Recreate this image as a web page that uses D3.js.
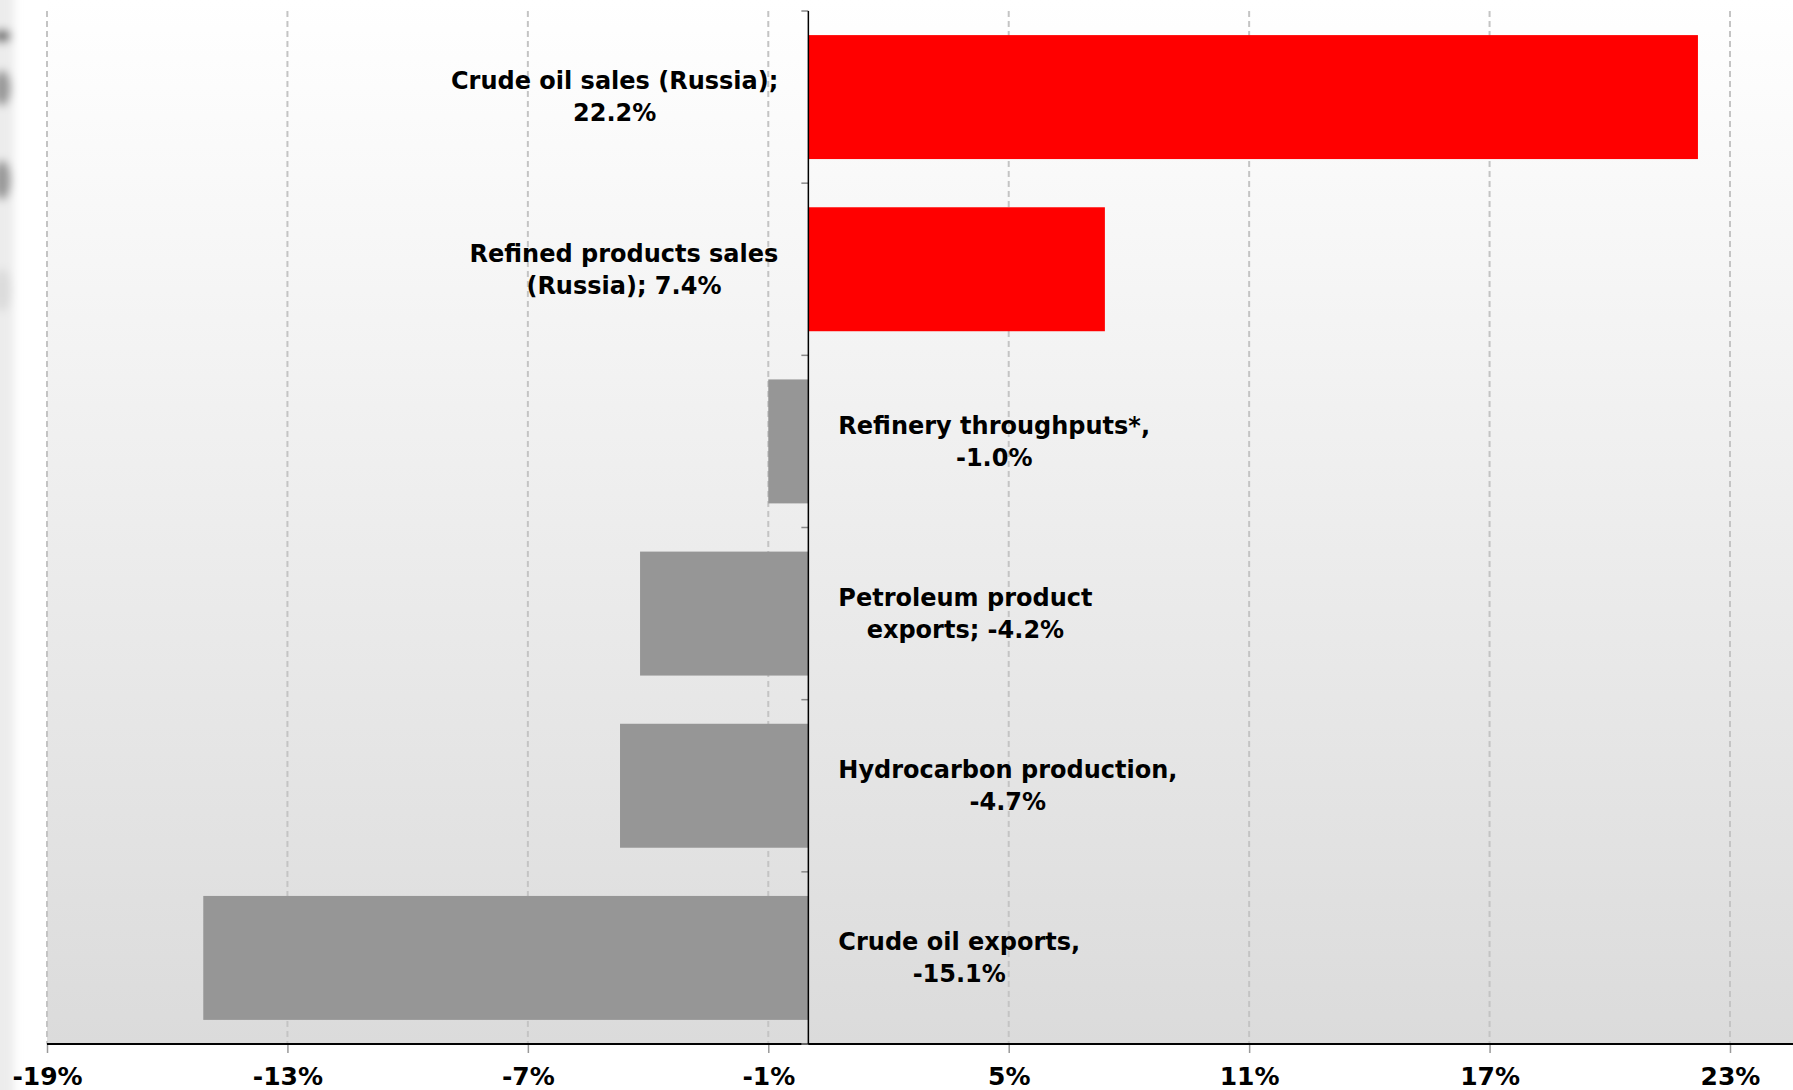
<!DOCTYPE html>
<html>
<head>
<meta charset="utf-8">
<script src="https://cdn.jsdelivr.net/npm/d3@7"></script>
<style>
  html, body { margin: 0; padding: 0; background: #ffffff; }
  svg { display: block; }
  text { font-family: "DejaVu Sans", Verdana, sans-serif; font-weight: bold; fill: #000; }
</style>
</head>
<body>
<svg id="chart" width="1793" height="1090"></svg>
<script>
// ---- data ----
const categories = [
  "Crude oil sales (Russia)",
  "Refined products sales (Russia)",
  "Refinery throughputs*",
  "Petroleum product exports",
  "Hydrocarbon production",
  "Crude oil exports"
];
const values = [22.2, 7.4, -1.0, -4.2, -4.7, -15.1];
const labelLines = [
  ["Crude oil sales (Russia);", "22.2%"],
  ["Refined products sales", "(Russia); 7.4%"],
  ["Refinery throughputs*,", "-1.0%"],
  ["Petroleum product", "exports; -4.2%"],
  ["Hydrocarbon production,", "-4.7%"],
  ["Crude oil exports,", "-15.1%"]
];
const xTicks = [-19, -13, -7, -1, 5, 11, 17, 23];
const barColors = values.map(v => v >= 0 ? "#ff0000" : "#969696");

// ---- layout ----
const W = 1793, H = 1090;
const plotLeft = 47, plotRight = 1793, plotTop = 11, plotBottom = 1044;
const svg = d3.select("#chart");

const x = d3.scaleLinear().domain([-19, 23]).range([47, 1730]);
const y = d3.scaleBand().domain(categories).range([plotTop, plotBottom])
  .paddingInner(0.28).paddingOuter(0.14);

const defs = svg.append("defs");
const grad = defs.append("linearGradient").attr("id", "bg")
  .attr("x1", 0).attr("y1", 0).attr("x2", 0).attr("y2", 1);
grad.append("stop").attr("offset", "0%").attr("stop-color", "#ffffff");
grad.append("stop").attr("offset", "100%").attr("stop-color", "#dbdbdb");
const blur = defs.append("filter").attr("id", "blur")
  .attr("x", "-50%").attr("y", "-50%").attr("width", "200%").attr("height", "200%");
blur.append("feGaussianBlur").attr("stdDeviation", 4);

// left edge shading (scan artefact)
const edge = svg.append("g").attr("filter", "url(#blur)");
edge.append("rect").attr("x", -10).attr("y", -10).attr("width", 24).attr("height", H + 20).attr("fill", "#ececec");
[[36, 7], [88, 18], [180, 20], [290, 22]].forEach(([cy, ry], i) => {
  edge.append("ellipse").attr("cx", 2).attr("cy", cy).attr("rx", 9).attr("ry", ry)
    .attr("fill", i === 3 ? "#dcdcdc" : (i === 0 ? "#777" : "#999"));
});

// plot background
svg.append("rect")
  .attr("x", plotLeft).attr("y", 0)
  .attr("width", plotRight - plotLeft).attr("height", plotBottom)
  .attr("fill", "url(#bg)");

// vertical dashed gridlines
svg.append("g").selectAll("line").data(xTicks).join("line")
  .attr("x1", d => x(d)).attr("x2", d => x(d))
  .attr("y1", plotTop).attr("y2", plotBottom)
  .attr("stroke", "#c4c4c4").attr("stroke-width", 2)
  .attr("stroke-dasharray", "6,4");

// bars
svg.append("g").selectAll("rect").data(values).join("rect")
  .attr("x", d => x(Math.min(0, d)))
  .attr("y", (d, i) => y(categories[i]))
  .attr("width", d => Math.abs(x(d) - x(0)))
  .attr("height", y.bandwidth())
  .attr("fill", (d, i) => barColors[i]);

// x axis
const xAxis = svg.append("g").attr("transform", `translate(0,${plotBottom})`)
  .call(d3.axisBottom(x).tickValues(xTicks).tickFormat(d => d + "%").tickSize(9).tickPadding(14));
xAxis.select(".domain").remove();
xAxis.selectAll(".tick line").attr("stroke", "#999").attr("stroke-width", 1.5);
xAxis.selectAll(".tick text")
  .style("font-family", '"DejaVu Sans", Verdana, sans-serif')
  .style("font-weight", "bold").style("font-size", "25px").attr("fill", "#000");
svg.append("line")
  .attr("x1", plotLeft).attr("x2", plotRight)
  .attr("y1", plotBottom).attr("y2", plotBottom)
  .attr("stroke", "#000").attr("stroke-width", 2);

// y axis at zero
const bounds = categories.map(c => y(c) - y.step() * y.paddingInner() / 2).concat([plotBottom]);
svg.append("g").selectAll("line").data(bounds).join("line")
  .attr("x1", x(0) - 7).attr("x2", x(0))
  .attr("y1", d => d).attr("y2", d => d)
  .attr("stroke", "#888").attr("stroke-width", 1.5);
svg.append("line")
  .attr("x1", x(0)).attr("x2", x(0))
  .attr("y1", plotTop).attr("y2", plotBottom)
  .attr("stroke", "#000").attr("stroke-width", 1.5);

// labels
const gap = 30, lineH = 32, fs = 24;
const lab = svg.append("g");
labelLines.forEach((lines, i) => {
  const cy = y(categories[i]) + y.bandwidth() / 2;
  const t = lab.append("text").style("font-size", fs + "px").attr("text-anchor", "middle");
  lines.forEach((ln, k) => {
    t.append("tspan").attr("x", 0)
      .attr("y", cy + (k - (lines.length - 1) / 2) * lineH)
      .attr("dy", "0.35em").text(ln);
  });
  let wmax = 0;
  t.selectAll("tspan").each(function () { wmax = Math.max(wmax, this.getComputedTextLength()); });
  const cx = values[i] >= 0 ? x(0) - gap - wmax / 2 : x(0) + gap + wmax / 2;
  t.selectAll("tspan").attr("x", cx);
});
</script>
</body>
</html>
